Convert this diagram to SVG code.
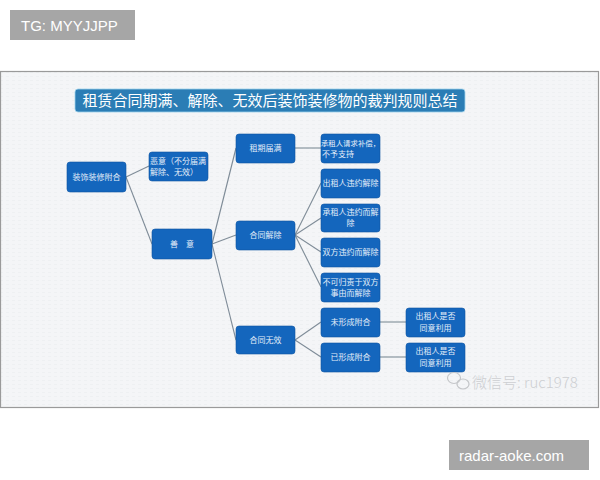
<svg xmlns="http://www.w3.org/2000/svg" width="600" height="480" viewBox="0 0 600 480">
<defs>
<style>
.n rect{fill:#1466bd;stroke:#0f56a3;stroke-width:0.6}
.n text{fill:#e4eef9;font-family:"Noto Sans CJK SC","Noto Sans",sans-serif;font-size:8px;text-anchor:middle}
.c line{stroke:#7f8c98;stroke-width:1.1}
.tag rect{fill:#a6a6a6}
.tag text{fill:#ffffff;font-family:"Liberation Sans",Arial,sans-serif;font-size:15px}
</style>
<pattern id="tex" width="6" height="4" patternUnits="userSpaceOnUse">
<rect width="6" height="4" fill="#f4f5f7"/>
<rect x="0" y="0" width="3" height="1" fill="#eef0f2"/>
</pattern>
</defs>
<rect width="600" height="480" fill="#ffffff"/>
<g class="tag" id="tag-top"><rect x="10" y="10" width="125" height="30"/><text x="21" y="31">TG: MYYJJPP</text></g>
<rect x="0.5" y="71.5" width="598" height="336" fill="url(#tex)" stroke="#9a9a9a" stroke-width="1.2"/>
<g id="title"><rect x="75" y="89" width="390" height="23" rx="3" fill="#2b7db5" stroke="#9fd3ee" stroke-width="0.8"/>
<text x="270" y="106" fill="#ffffff" font-family="'Noto Sans CJK SC',sans-serif" font-size="15" text-anchor="middle">租赁合同期满、解除、无效后装饰装修物的裁判规则总结</text></g>
<g class="c" id="connectors">
<line x1="126" y1="177" x2="149" y2="166"/>
<line x1="126" y1="177" x2="152" y2="244"/>
<line x1="212" y1="244" x2="236" y2="148"/>
<line x1="212" y1="244" x2="236" y2="235"/>
<line x1="212" y1="244" x2="236" y2="340"/>
<line x1="295" y1="148" x2="321" y2="148"/>
<line x1="295" y1="235" x2="321" y2="183"/>
<line x1="295" y1="235" x2="321" y2="218"/>
<line x1="295" y1="235" x2="321" y2="252"/>
<line x1="295" y1="235" x2="321" y2="287"/>
<line x1="295" y1="340" x2="321" y2="322"/>
<line x1="295" y1="340" x2="321" y2="357"/>
<line x1="380" y1="322" x2="406" y2="322"/>
<line x1="380" y1="357" x2="406" y2="357"/>
</g>
<g class="n" id="n-fuhe"><rect x="67" y="162" width="59" height="30" rx="3"/><text x="96.5" y="180">装饰装修附合</text></g>
<g class="n" id="n-eyi"><rect x="149" y="152" width="59" height="29" rx="3"/><text x="150" y="164" style="text-anchor:start">恶意（不分届满</text><text x="150" y="175" style="text-anchor:start">解除、无效）</text></g>
<g class="n" id="n-shanyi"><rect x="152" y="229" width="60" height="30" rx="3"/><text x="182" y="247">善　意</text></g>
<g class="n" id="n-jiman"><rect x="236" y="134" width="59" height="29" rx="3"/><text x="265.5" y="151">租期届满</text></g>
<g class="n" id="n-jiechu"><rect x="236" y="221" width="59" height="29" rx="3"/><text x="265.5" y="238">合同解除</text></g>
<g class="n" id="n-wuxiao"><rect x="236" y="326" width="59" height="28" rx="3"/><text x="265.5" y="343">合同无效</text></g>
<g class="n" id="n-buchang"><rect x="321" y="134" width="59" height="29" rx="3"/><text x="350.5" y="146" style="font-size:7.4px">承租人请求补偿，</text><text x="322" y="157" style="text-anchor:start">不予支持</text></g>
<g class="n" id="n-chuzu"><rect x="321" y="169" width="59" height="29" rx="3"/><text x="350.5" y="186">出租人违约解除</text></g>
<g class="n" id="n-chengzu"><rect x="321" y="204" width="59" height="28" rx="3"/><text x="350.5" y="215">承租人违约而解</text><text x="350.5" y="226">除</text></g>
<g class="n" id="n-shuangfang"><rect x="321" y="238" width="59" height="29" rx="3"/><text x="350.5" y="255">双方违约而解除</text></g>
<g class="n" id="n-bukeguize"><rect x="321" y="273" width="59" height="29" rx="3"/><text x="350.5" y="285">不可归责于双方</text><text x="350.5" y="296">事由而解除</text></g>
<g class="n" id="n-weixingcheng"><rect x="321" y="308" width="59" height="29" rx="3"/><text x="350.5" y="325">未形成附合</text></g>
<g class="n" id="n-yixingcheng"><rect x="321" y="343" width="59" height="29" rx="3"/><text x="350.5" y="360">已形成附合</text></g>
<g class="n" id="n-tongyi1"><rect x="406" y="308" width="59" height="29" rx="3"/><text x="435.5" y="319">出租人是否</text><text x="435.5" y="331">同意利用</text></g>
<g class="n" id="n-tongyi2"><rect x="406" y="343" width="59" height="29" rx="3"/><text x="435.5" y="354">出租人是否</text><text x="435.5" y="366">同意利用</text></g>
<g id="watermark" fill="none" stroke="#c4c6c9" stroke-width="1.2">
<ellipse cx="454" cy="378" rx="6.5" ry="5.5"/><ellipse cx="463" cy="384" rx="6" ry="5"/>
</g>
<text x="472" y="388" fill="#cdcfd2" font-family="'Noto Sans CJK SC',sans-serif" font-weight="300" font-size="15">微信号: ruc1978</text>
<g class="tag" id="tag-bottom"><rect x="449" y="440" width="140" height="30"/><text x="459" y="461">radar-aoke.com</text></g>
</svg>
